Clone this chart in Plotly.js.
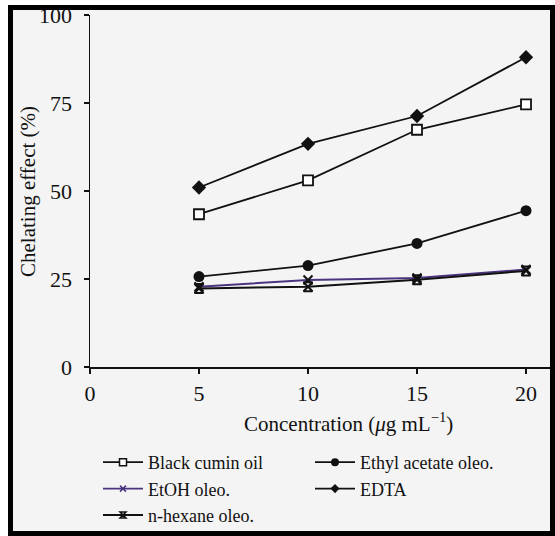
<!DOCTYPE html>
<html>
<head>
<meta charset="utf-8">
<script src="https://cdn.plot.ly/plotly-3.0.1.min.js"></script>
<style>
  html, body { margin: 0; padding: 0; background: #ffffff; }
  #wrap { position: relative; width: 555px; height: 536px; overflow: hidden; }
  #chart { position: absolute; left: 0; top: 0; width: 555px; height: 536px; }
  #frame { position: absolute; left: 8px; top: 5px; width: 547px; height: 531px;
           border: 5px solid #000; box-sizing: border-box; pointer-events: none;
           box-shadow: 0 0 0 30px #ffffff; }
</style>
</head>
<body>
<div id="wrap">
  <div id="chart"></div>
  <div id="frame"></div>
</div>
<script>
// Data
const concentration = [5, 10, 15, 20];
const blackCuminOil = [43.4, 53.0, 67.4, 74.6];
const ethylAcetateOleo = [25.7, 28.8, 35.1, 44.4];
const etohOleo = [22.8, 24.7, 25.3, 27.7];
const edta = [51.0, 63.4, 71.3, 88.0];
const nHexaneOleo = [22.3, 22.8, 24.8, 27.3];

const seriesNames = ["Black cumin oil", "Ethyl acetate oleo.", "EtOH oleo.", "EDTA", "n-hexane oleo."];
const xTicks = [0, 5, 10, 15, 20];
const yTicks = [0, 25, 50, 75, 100];
const xTitle = "Concentration (<i>μ</i>g mL<sup>−1</sup>)";
const yTitle = "Chelating effect (%)";

const FONT = "Liberation Serif, Times New Roman, serif";
const ink = "#111111";
const purple = "#4a3480";

// Style per series (plot markers, legend markers)
const styles = [
  { line: { color: ink, width: 1.8 }, symbol: "square", size: 10, legSize: 7, fill: "#ffffff", mline: { color: ink, width: 1.8 }, legColor: "#ffffff" },
  { line: { color: ink, width: 1.8 }, symbol: "circle", size: 11, legSize: 8, fill: ink, mline: { width: 0 }, legColor: ink },
  { line: { color: purple, width: 2 }, symbol: "x-thin", size: 9, legSize: 6, fill: ink, mline: { color: ink, width: 2 }, legColor: purple, legLine: { color: purple, width: 1.5 } },
  { line: { color: ink, width: 1.8 }, symbol: "diamond", size: 11, legSize: 7, fill: ink, mline: { width: 0 }, legColor: ink },
  { line: { color: ink, width: 2 }, symbol: "hourglass-open", size: 9, legSize: 6, fill: ink, mline: { color: ink, width: 2 }, legColor: ink }
];
const seriesValues = [blackCuminOil, ethylAcetateOleo, etohOleo, edta, nHexaneOleo];

const traces = [];
seriesValues.forEach((vals, i) => {
  const s = styles[i];
  traces.push({
    x: concentration, y: vals, name: seriesNames[i], mode: "lines+markers", showlegend: false,
    line: s.line, marker: { symbol: s.symbol, size: s.size, color: s.fill, line: s.mline }
  });
});
// legend-only entries (smaller symbols, as in the reference key)
seriesNames.forEach((name, i) => {
  const s = styles[i];
  const ml = s.legLine ? s.legLine : (s.mline.width ? { color: s.mline.color, width: 1.5 } : { width: 0 });
  traces.push({
    x: [null], y: [null], name: name, mode: "lines+markers", showlegend: true,
    line: { color: s.line.color, width: 1.8 },
    marker: { symbol: s.symbol, size: s.legSize, color: s.legColor, line: ml }
  });
});

const layout = {
  width: 555, height: 536,
  margin: { l: 90, r: 5, t: 15, b: 169 },
  paper_bgcolor: "#f4f4f4",
  plot_bgcolor: "#f4f4f4",
  font: { family: FONT, size: 20, color: ink },
  showlegend: true,
  xaxis: {
    range: [0, 21.1], tickvals: xTicks, ticktext: xTicks.map(String),
    showgrid: false, zeroline: false, showline: true, linecolor: ink, linewidth: 1.5,
    ticks: "outside", ticklen: 5, tickwidth: 1.5, tickcolor: ink,
    ticklabelstandoff: 1, automargin: false,
    tickfont: { family: FONT, size: 22, color: ink }
  },
  yaxis: {
    range: [0, 100], tickvals: yTicks, ticktext: yTicks.map(String),
    showgrid: false, zeroline: false, showline: true, linecolor: ink, linewidth: 1.5,
    ticks: "outside", ticklen: 5, tickwidth: 1.5, tickcolor: ink,
    ticklabelstandoff: 7, automargin: false,
    tickfont: { family: FONT, size: 22, color: ink }
  },
  annotations: [
    { text: xTitle, xref: "paper", yref: "paper", x: (348 - 90) / 460, y: (367 - 422) / 352,
      xanchor: "center", yanchor: "middle", showarrow: false,
      font: { family: FONT, size: 21, color: ink } },
    { text: yTitle, textangle: -90, xref: "paper", yref: "paper", x: (28 - 90) / 460, y: (367 - 192) / 352,
      xanchor: "center", yanchor: "middle", showarrow: false,
      font: { family: FONT, size: 21, color: ink } }
  ],
  legend: {
    orientation: "h", x: 98 / 555, xref: "container", xanchor: "left",
    y: 1 - 444 / 536, yref: "container", yanchor: "top",
    bgcolor: "rgba(0,0,0,0)", itemwidth: 40,
    entrywidth: 157, entrywidthmode: "pixels",
    font: { family: FONT, size: 18, color: ink },
    tracegroupgap: 0
  }
};

Plotly.newPlot("chart", traces, layout, { displayModeBar: false, staticPlot: true });
</script>
</body>
</html>
